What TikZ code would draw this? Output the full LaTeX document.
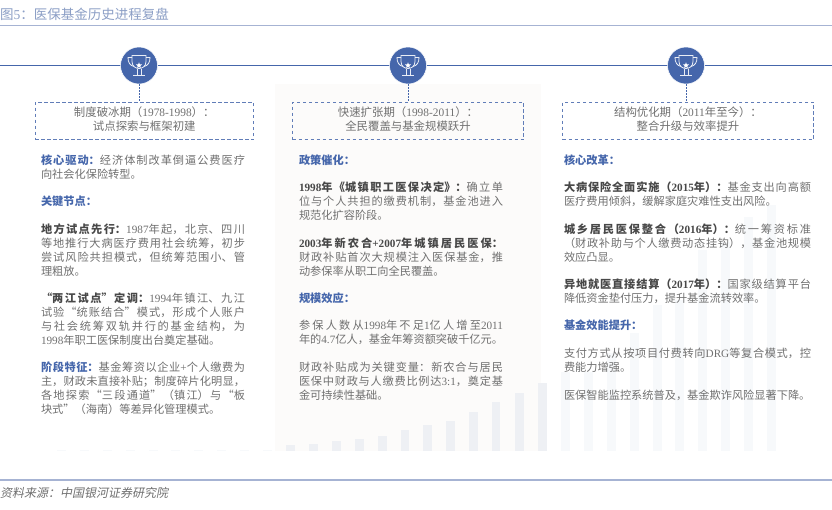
\documentclass[tikz,border=0pt]{standalone}
\usepackage{fontspec}
\setmainfont{Noto Sans CJK SC}
\newfontfamily\latf{Liberation Serif}
\newfontfamily\slantf[FakeSlant=0.2]{Noto Sans CJK SC}
\newcommand\lat[1]{{\latf #1}}
\newcommand\lift{\rule[-5pt]{0pt}{5pt}}
\XeTeXlinebreaklocale "zh"
\XeTeXlinebreakskip=0pt plus 3pt minus .1pt
\hbadness=10000 \hfuzz=3pt
\definecolor{tblue}{HTML}{4566AB}
\definecolor{rule}{HTML}{A6B3D3}
\definecolor{titlec}{HTML}{8C9FC6}
\definecolor{bodyc}{HTML}{707070}
\definecolor{darkc}{HTML}{484848}
\definecolor{headc}{HTML}{4566AB}
\definecolor{panel}{HTML}{FCFBFA}
\definecolor{barl}{HTML}{EEF0F4}
\definecolor{barr}{HTML}{F7F9FB}
\newcommand\hd[1]{{\bfseries\color{headc}#1}}
\newcommand\bd[1]{{\bfseries\color{darkc}#1}}
\tikzset{
  para/.style={anchor=north west,inner sep=0pt,outer sep=0pt,text=bodyc,
    font=\fontsize{11.2}{14}\selectfont,align=justify},
  boxtext/.style={draw=tblue!85,dash pattern=on 3.5pt off 2.5pt,line width=1pt,inner sep=0pt,
    text=bodyc,font=\fontsize{11.4}{14}\selectfont,align=center,anchor=north west},
  medal/.style={circle,fill=tblue,draw=white,line width=.5pt,minimum size=37pt,inner sep=0pt},
  link/.style={tblue,line width=.9pt,dash pattern=on 2pt off 1pt},
  cupline/.style={draw=white!88!tblue,line width=.8pt}
}
\newcommand\trophy[1]{%
  \begin{scope}[shift={(#1.center)}]
    \draw[cupline] (-7,-10) -- (7,-10) -- (7,-4) .. controls (7,1) and (3,3) .. (0,3) .. controls (-3,3) and (-7,1) .. (-7,-4) -- cycle;
    \draw[cupline] (-7,-8) -- (-11,-8) .. controls (-11,-3) and (-9,0) .. (-5,1);
    \draw[cupline] (7,-8) -- (11,-8) .. controls (11,-3) and (9,0) .. (5,1);
    \draw[cupline] (-2,3) -- (-2,9) (2,3) -- (2,9) (-6,10) -- (6,10);
    \fill[white] (-90:3.2) -- (-54:1.4) -- (-18:3.2) -- (18:1.4) -- (54:3.2) -- (90:1.4) -- (126:3.2) -- (162:1.4) -- (198:3.2) -- (234:1.4) -- cycle;
  \end{scope}}
\begin{document}
\begin{tikzpicture}[x=1pt,y=-1pt]
\useasboundingbox (0,0) rectangle (832,509);
\fill[white] (0,0) rectangle (832,509);
% faint bars under the first column
\foreach \x/\t in {57/450,80/450,103/450,126/450,149/450,171/450,194/450,217/450,240/449.5,263/449.5}
  \fill[barr] (\x,\t) rectangle (\x+8.5,451);
% panel and bars
\fill[panel] (275,84) rectangle (541,451);
\foreach \x/\t in {286/445,309/443.5,332/441,355/439,378/435.5,400.5/430,423/425,446/421,469/411.5,491.5/402,515/392.5,538/383}
  \fill[barl] (\x,\t) rectangle (\x+8.5,451);
\foreach \x/\t in {561/372,584/372,607/353,630/333,653/305,675/300,698/250,721/242,744/217,767/205}
  \fill[barr] (\x,\t) rectangle (\x+8.5,451);
% rules
\draw[rule,line width=1.5pt] (0,25.5) -- (832,25.5);
\draw[rule,line width=1.5pt] (0,480) -- (832,480);
\draw[tblue,line width=1pt] (0,65.5) -- (832,65.5);
% title and source
\node[anchor=west,inner sep=0pt,text=titlec,font=\fontsize{13.5}{14}\selectfont] (title) at (0,14) {图\lat{5}：医保基金历史进程复盘};
\node[anchor=west,inner sep=0pt,text=bodyc,font=\fontsize{12}{14}\selectfont\slantf] (source) at (0,493) {资料来源：中国银河证券研究院};
% medals
\node[medal] (c1) at (139,65.5) {};
\node[medal] (c2) at (408,65.5) {};
\node[medal] (c3) at (686,65.5) {};
\trophy{c1}\trophy{c2}\trophy{c3}
% boxes
\node[boxtext,minimum width=218.5pt,minimum height=37.5pt] (b1) at (34.5,101.5) {制度破冰期（\lat{1978-1998}）：\\试点探索与框架初建\lift};
\node[boxtext,minimum width=231pt,minimum height=37.5pt] (b2) at (292,101.5) {快速扩张期（\lat{1998-2011}）：\\全民覆盖与基金规模跃升\lift};
\node[boxtext,minimum width=251pt,minimum height=37.5pt] (b3) at (562,101.5) {结构优化期（\lat{2011}年至今）：\\整合升级与效率提升\lift};
\draw[link] (c1.south) -- (c1.south |- b1.north);
\draw[link] (c2.south) -- (c2.south |- b2.north);
\draw[link] (c3.south) -- (c3.south |- b3.north);
% column 1
\node[para,text width=204pt] (a1) at (41,155) {\hd{核心驱动：}经济体制改革倒逼公费医疗\linebreak 向社会化保险转型。};
\node[para,text width=204pt] (a2) at (41,196) {\hd{关键节点：}};
\node[para,text width=204pt] (a3) at (41,224) {\bd{地方试点先行：}\lat{1987}年起，北京、四川\linebreak 等地推行大病医疗费用社会统筹，初步\linebreak 尝试风险共担模式，但统筹范围小、管\linebreak 理粗放。};
\node[para,text width=204pt] (a4) at (41,293) {\bd{“两江试点”定调：}\lat{1994}年镇江、九江\linebreak 试验“统账结合”模式，形成个人账户\linebreak 与社会统筹双轨并行的基金结构，为\linebreak \lat{1998}年职工医保制度出台奠定基础。};
\node[para,text width=204pt] (a5) at (41,362) {\hd{阶段特征：}基金筹资以企业\lat{+}个人缴费为\linebreak 主，财政未直接补贴；制度碎片化明显，\linebreak 各地探索“三段通道”（镇江）与“板\linebreak 块式”（海南）等差异化管理模式。};
% column 2
\node[para,text width=204pt] (d1) at (299,155) {\hd{政策催化：}};
\node[para,text width=204pt] (d2) at (299,182) {\bd{\lat{1998}年《城镇职工医保决定》：}确立单\linebreak 位与个人共担的缴费机制，基金池进入\linebreak 规范化扩容阶段。};
\node[para,text width=204pt] (d3) at (299,238) {\bd{\lat{2003}年新农合\lat{+2007}年城镇居民医保：}\linebreak 财政补贴首次大规模注入医保基金，推\linebreak 动参保率从职工向全民覆盖。};
\node[para,text width=204pt] (d4) at (299,293) {\hd{规模效应：}};
\node[para,text width=204pt] (d5) at (299,320) {\parfillskip=0pt 参保人数从\lat{1998}年不足\lat{1}亿人增至\lat{2011}\linebreak 年的\lat{4.7}亿人，基金年筹资额突破千亿元。};
\node[para,text width=204pt] (d6) at (299,362) {财政补贴成为关键变量：新农合与居民\linebreak 医保中财政与人缴费比例达\lat{3:1}，奠定基\linebreak 金可持续性基础。};
% column 3
\node[para,text width=247pt] (e1) at (564,155) {\hd{核心改革：}};
\node[para,text width=247pt] (e2) at (564,182) {\bd{大病保险全面实施（\lat{2015}年）：}基金支出向高额\linebreak 医疗费用倾斜，缓解家庭灾难性支出风险。};
\node[para,text width=247pt] (e3) at (564,224) {\bd{城乡居民医保整合（\lat{2016}年）：}统一筹资标准\linebreak （财政补助与个人缴费动态挂钩），基金池规模\linebreak 效应凸显。};
\node[para,text width=247pt] (e4) at (564,279) {\bd{异地就医直接结算（\lat{2017}年）：}国家级结算平台\linebreak 降低资金垫付压力，提升基金流转效率。};
\node[para,text width=247pt] (e5) at (564,320) {\hd{基金效能提升：}};
\node[para,text width=247pt] (e6) at (564,348) {支付方式从按项目付费转向\lat{DRG}等复合模式，控\linebreak 费能力增强。};
\node[para,text width=247pt] (e7) at (564,390) {医保智能监控系统普及，基金欺诈风险显著下降。};
\end{tikzpicture}
\end{document}
